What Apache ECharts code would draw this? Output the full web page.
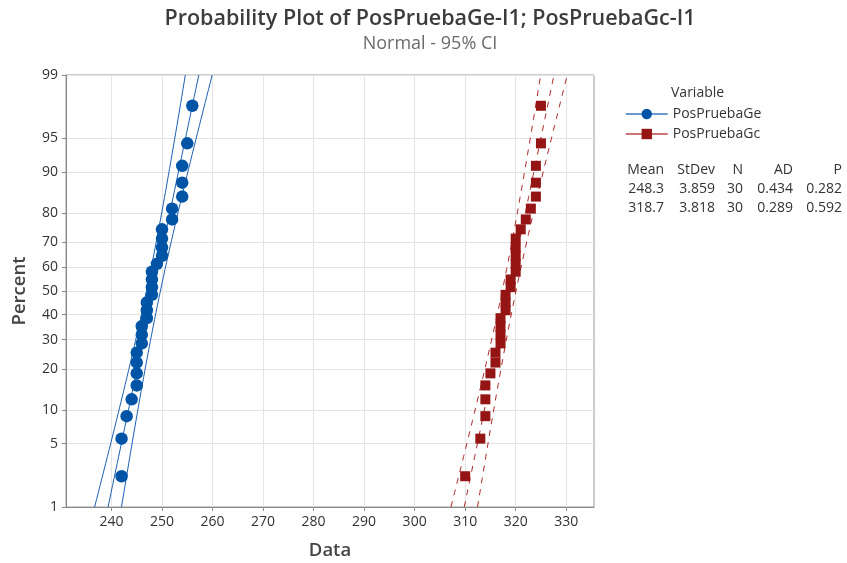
<!DOCTYPE html>
<html>
<head>
<meta charset="utf-8">
<title>Probability Plot</title>
<script src="https://cdn.jsdelivr.net/npm/echarts@6/dist/echarts.min.js"></script>
<style>
  html, body { margin: 0; padding: 0; background: #fff; }
  #chart { width: 847px; height: 563px; }
</style>
</head>
<body>
<div id="chart"></div>
<script>
/* ---------------- Data ---------------- */
const seriesNames = ["PosPruebaGe", "PosPruebaGc"];
const geValues = [242, 242, 243, 244, 245, 245, 245, 245, 246, 246, 246, 247, 247, 247, 248,
                  248, 248, 248, 249, 250, 250, 250, 250, 252, 252, 254, 254, 254, 255, 256];
const gcValues = [310, 313, 314, 314, 314, 315, 316, 316, 317, 317, 317, 317, 318, 318, 318,
                  319, 319, 320, 320, 320, 320, 320, 321, 322, 323, 324, 324, 324, 325, 325];
const means = [248.3, 318.7];
const stdevs = [3.859, 3.818];
const statRows = [
  ["248.3", "3.859", "30", "0.434", "0.282"],
  ["318.7", "3.818", "30", "0.289", "0.592"]
];
const statHeader = ["Mean", "StDev", "N", "AD", "P"];
const percentTicks = [1, 5, 10, 20, 30, 40, 50, 60, 70, 80, 90, 95, 99];
const dataLabels = [240, 250, 260, 270, 280, 290, 300, 310, 320, 330];
const dataGrid = [235, 240, 245, 250, 255, 260, 265, 270, 275, 280, 285, 290, 295, 300, 305, 310, 315, 320, 325, 330, 335];

const colors = ["#0054a6", "#951515"];
const lineColors = ["#1c5fb4", "#b0282a"];

/* ---------------- Helpers ---------------- */
// inverse standard normal (Acklam)
function normInv(p) {
  const a = [-3.969683028665376e+01, 2.209460984245205e+02, -2.759285104469687e+02, 1.383577518672690e+02, -3.066479806614716e+01, 2.506628277459239e+00];
  const b = [-5.447609879822406e+01, 1.615858368580409e+02, -1.556989798598866e+02, 6.680131188771972e+01, -1.328068155288572e+01];
  const c = [-7.784894002430293e-03, -3.223964580411365e-01, -2.400758277161838e+00, -2.549732539343734e+00, 4.374664141464968e+00, 2.938163982698783e+00];
  const d = [7.784695709041462e-03, 3.224671290700398e-01, 2.445134137142996e+00, 3.754408661907416e+00];
  const pl = 0.02425;
  let q, r;
  if (p < pl) {
    q = Math.sqrt(-2 * Math.log(p));
    return (((((c[0] * q + c[1]) * q + c[2]) * q + c[3]) * q + c[4]) * q + c[5]) / ((((d[0] * q + d[1]) * q + d[2]) * q + d[3]) * q + 1);
  }
  if (p <= 1 - pl) {
    q = p - 0.5; r = q * q;
    return (((((a[0] * r + a[1]) * r + a[2]) * r + a[3]) * r + a[4]) * r + a[5]) * q / (((((b[0] * r + b[1]) * r + b[2]) * r + b[3]) * r + b[4]) * r + 1);
  }
  q = Math.sqrt(-2 * Math.log(1 - p));
  return -(((((c[0] * q + c[1]) * q + c[2]) * q + c[3]) * q + c[4]) * q + c[5]) / ((((d[0] * q + d[1]) * q + d[2]) * q + d[3]) * q + 1);
}

// median rank plotting positions
const toPoints = vals => vals.map((v, i) => [v, normInv((i + 1 - 0.3) / (vals.length + 0.4))]);

const zMin = normInv(0.01);
const zMax = normInv(0.99);

// fitted line and 95% CI band from mean / stdev
function fitLines(mu, sd, n) {
  const mid = [], lo = [], hi = [];
  const steps = 60;
  for (let k = 0; k <= steps; k++) {
    const z = zMin + (zMax - zMin) * k / steps;
    const half = 1.96 * sd * Math.sqrt(1 / n + z * z / (2 * n));
    mid.push([mu + z * sd, z]);
    lo.push([mu + z * sd - half, z]);
    hi.push([mu + z * sd + half, z]);
  }
  return { mid, lo, hi };
}

const fits = [fitLines(means[0], stdevs[0], geValues.length), fitLines(means[1], stdevs[1], gcValues.length)];
const pts = [toPoints(geValues), toPoints(gcValues)];

/* ---------------- Chart ---------------- */
const chart = echarts.init(document.getElementById("chart"));
const font = "'Open Sans', 'Noto Sans', sans-serif";

const series = [];
[0, 1].forEach(s => {
  const dashed = s === 1 ? [6, 6] : "solid";
  ["lo", "mid", "hi"].forEach(key => {
    series.push({
      name: seriesNames[s] + "-" + key,
      type: "line",
      data: fits[s][key],
      showSymbol: false,
      silent: true,
      z: 2,
      lineStyle: { color: lineColors[s], width: 1, type: dashed }
    });
  });
});
[0, 1].forEach(s => {
  series.push({
    name: seriesNames[s],
    type: "line",
    data: pts[s],
    symbol: s === 0 ? "circle" : "rect",
    symbolSize: s === 0 ? 12.5 : 10,
    showAllSymbol: true,
    z: 5,
    itemStyle: { color: colors[s] },
    lineStyle: { opacity: 0, width: 0 }
  });
});

const graphics = [
  { type: "text", left: 671, top: 86, style: { text: "Variable", font: "14px " + font, fill: "#333" } }
];
const colRight = [664, 715, 743, 793, 842];
[statHeader].concat(statRows).forEach((row, r) => {
  row.forEach((t, c) => {
    graphics.push({
      type: "text",
      x: colRight[c],
      y: 170 + r * 19,
      style: { text: t, font: "14px " + font, fill: "#333", align: "right", verticalAlign: "middle" }
    });
  });
});

const option = {
  animation: false,
  textStyle: { fontFamily: font },
  title: {
    text: "Probability Plot of PosPruebaGe-I1; PosPruebaGc-I1",
    subtext: "Normal - 95% CI",
    left: 425,
    textAlign: "center",
    top: 3,
    itemGap: 5,
    textStyle: { fontSize: 21.5, fontWeight: 600, color: "#3c3c3c", fontFamily: font },
    subtextStyle: { fontSize: 18, color: "#6a6a6a", fontFamily: font }
  },
  legend: {
    orient: "vertical",
    left: 620,
    top: 102,
    itemWidth: 42,
    itemHeight: 13,
    itemGap: 6,
    data: [
      { name: seriesNames[0], lineStyle: { opacity: 1, width: 1.5, color: "#3a76c4", type: "solid" } },
      { name: seriesNames[1], lineStyle: { opacity: 1, width: 1.5, color: "#c0474a", type: "solid" } }
    ],
    textStyle: { fontSize: 14, color: "#333", fontFamily: font }
  },
  graphic: graphics,
  grid: {
    left: 66, right: 253, top: 75, bottom: 56,
    outerBoundsMode: "none",
    containLabel: false,
    show: true, borderColor: "#9a9a9a", borderWidth: 1
  },
  xAxis: {
    type: "value",
    min: 231,
    max: 335.5,
    name: "Data",
    nameLocation: "middle",
    nameGap: 34,
    nameTextStyle: { fontSize: 18.5, fontWeight: 600, color: "#444" },
    axisLine: { show: true, onZero: false, lineStyle: { color: "#8a8a8a" } },
    axisTick: { show: true, customValues: dataLabels, length: 4, lineStyle: { color: "#8a8a8a" } },
    axisLabel: { customValues: dataLabels, fontSize: 14, color: "#333", margin: 8 },
    splitLine: { show: true, customValues: dataGrid, lineStyle: { color: "#e4e4e4" } }
  },
  yAxis: {
    type: "value",
    min: zMin,
    max: zMax,
    name: "Percent",
    nameLocation: "middle",
    nameGap: 37,
    nameTextStyle: { fontSize: 18.5, fontWeight: 600, color: "#444" },
    axisLine: { show: true, onZero: false, lineStyle: { color: "#8a8a8a" } },
    axisTick: { show: true, customValues: percentTicks.map(p => normInv(p / 100)), length: 4, lineStyle: { color: "#8a8a8a" } },
    axisLabel: {
      customValues: percentTicks.map(p => normInv(p / 100)),
      fontSize: 14,
      color: "#333",
      margin: 8,
      formatter: v => {
        let best = percentTicks[0];
        percentTicks.forEach(p => { if (Math.abs(normInv(p / 100) - v) < Math.abs(normInv(best / 100) - v)) best = p; });
        return String(best);
      }
    },
    splitLine: { show: true, lineStyle: { color: "#e4e4e4" } }
  },
  series: series
};

chart.setOption(option);
</script>
</body>
</html>
